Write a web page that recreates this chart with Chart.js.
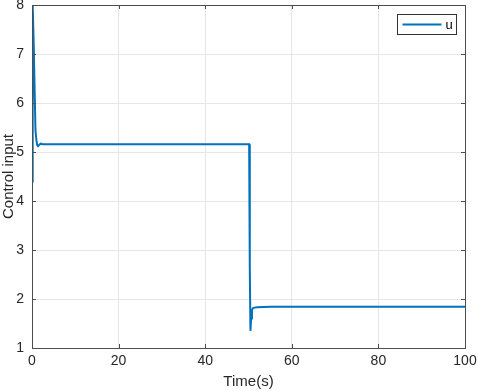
<!DOCTYPE html>
<html>
<head>
<meta charset="utf-8">
<script src="https://cdn.jsdelivr.net/npm/chart.js@4"></script>
<style>
  html, body { margin: 0; padding: 0; background: #fff; }
  #wrap { width: 477px; height: 391px; }
</style>
</head>
<body>
<div id="wrap"><canvas id="chart" width="477" height="391"></canvas></div>
<script>
// values
const times = [0, 0.1, 0.22, 0.4, 0.6, 0.8, 1.0, 1.2, 1.4, 1.7, 2.0, 2.5, 4, 10, 20, 30, 40, 49.9, 50.15, 50.3, 50.45, 50.6, 50.8, 51.1, 52, 55, 60, 80, 100];
const uValues = [4.4, 6.6, 8.0, 7.2, 6.3, 5.45, 5.25, 5.14, 5.12, 5.15, 5.17, 5.16, 5.16, 5.16, 5.16, 5.16, 5.16, 5.16, 5.16, 2.6, 1.35, 1.6, 1.78, 1.82, 1.83, 1.84, 1.84, 1.84, 1.84];
const xTicks = [0, 20, 40, 60, 80, 100];
const yTicks = [1, 2, 3, 4, 5, 6, 7, 8];
const seriesName = 'u';

const FONT = 'Liberation Sans, Arial, sans-serif';
const AXIS_COLOR = '#4d4d4d';

// box around plot + matlab style legend inside
const frameAndLegend = {
  id: 'frameAndLegend',
  afterDraw(chart) {
    const { ctx, chartArea: a } = chart;
    ctx.save();
    ctx.strokeStyle = AXIS_COLOR;
    ctx.lineWidth = 1;
    ctx.strokeRect(a.left + 0.5, a.top + 0.5, a.right - a.left, a.bottom - a.top);

    // tick marks inside
    const xs = chart.scales.x, ys = chart.scales.y;
    ctx.beginPath();
    xTicks.forEach(t => {
      const px = Math.round(xs.getPixelForValue(t)) + 0.5;
      ctx.moveTo(px, a.bottom); ctx.lineTo(px, a.bottom - 4);
      ctx.moveTo(px, a.top); ctx.lineTo(px, a.top + 4);
    });
    yTicks.forEach(t => {
      const py = Math.round(ys.getPixelForValue(t)) + 0.5;
      ctx.moveTo(a.left, py); ctx.lineTo(a.left + 4, py);
      ctx.moveTo(a.right, py); ctx.lineTo(a.right - 4, py);
    });
    ctx.stroke();

    // legend
    const bx = 397.5, by = 14.5, bw = 59, bh = 20;
    ctx.fillStyle = '#fff';
    ctx.fillRect(bx, by, bw, bh);
    ctx.strokeStyle = '#333';
    ctx.lineWidth = 1;
    ctx.strokeRect(bx, by, bw, bh);
    ctx.strokeStyle = '#0072BD';
    ctx.lineWidth = 2;
    ctx.beginPath();
    ctx.moveTo(bx + 5, by + bh / 2);
    ctx.lineTo(bx + 44, by + bh / 2);
    ctx.stroke();
    ctx.fillStyle = '#000';
    ctx.font = '13px ' + FONT;
    ctx.textBaseline = 'middle';
    ctx.fillText(seriesName, bx + 48, by + bh / 2 + 1);
    ctx.restore();
  }
};

new Chart(document.getElementById('chart'), {
  type: 'scatter',
  data: {
    datasets: [{
      label: seriesName,
      data: times.map((t, i) => ({ x: t, y: uValues[i] })),
      showLine: true,
      borderColor: '#0072BD',
      backgroundColor: '#0072BD',
      borderWidth: 2,
      pointRadius: 0,
      tension: 0
    }]
  },
  options: {
    responsive: false,
    animation: false,
    layout: { padding: { left: 0, right: 12, top: 5, bottom: 0 } },
    plugins: { legend: { display: false }, tooltip: { enabled: false } },
    scales: {
      x: {
        type: 'linear',
        min: 0, max: 100,
        afterBuildTicks: s => { s.ticks = xTicks.map(v => ({ value: v })); },
        afterFit: s => { s.height = 43; s.paddingLeft = 0; s.paddingRight = 0; },
        grid: { color: '#e6e6e6', drawTicks: false },
        border: { display: false },
        ticks: { color: '#262626', font: { family: FONT, size: 14 }, padding: 5, maxRotation: 0 },
        title: { display: true, text: 'Time(s)', color: '#262626', font: { family: FONT, size: 15 }, padding: { top: 1, bottom: 0 } }
      },
      y: {
        min: 1, max: 8,
        afterBuildTicks: s => { s.ticks = yTicks.map(v => ({ value: v })); },
        afterFit: s => { s.width = 32; s.paddingTop = 0; s.paddingBottom = 0; },
        grid: { color: '#e6e6e6', drawTicks: false },
        border: { display: false },
        ticks: { color: '#262626', font: { family: FONT, size: 14 }, padding: 8 },
        title: { display: true, text: 'Control input', color: '#262626', font: { family: FONT, size: 15 }, padding: { top: 0, bottom: 0 } }
      }
    }
  },
  plugins: [frameAndLegend]
});
</script>
</body>
</html>
